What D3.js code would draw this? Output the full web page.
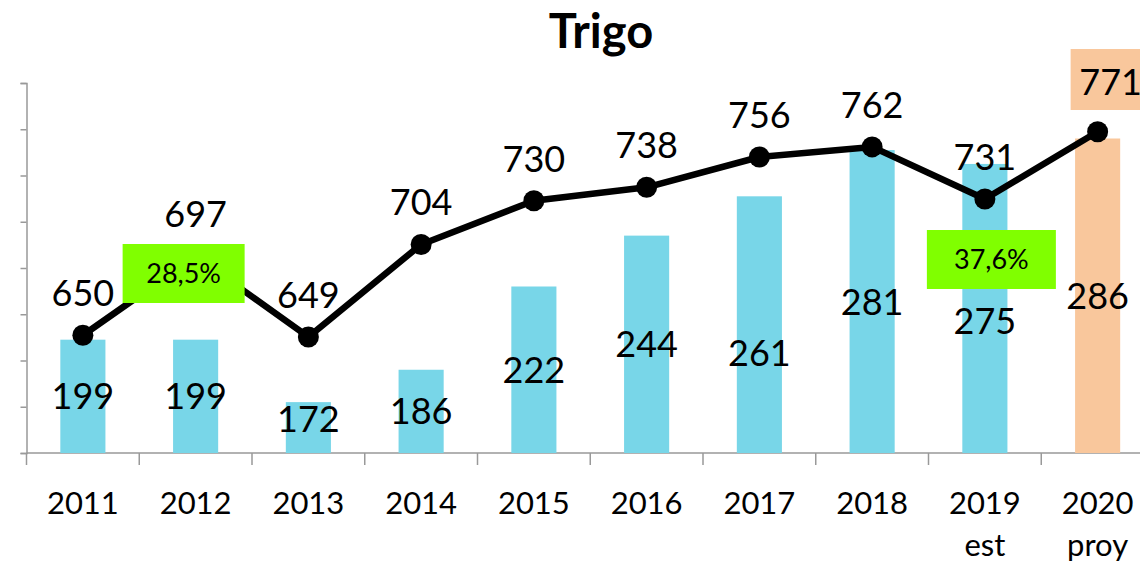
<!DOCTYPE html>
<html>
<head>
<meta charset="utf-8">
<script src="https://cdn.jsdelivr.net/npm/d3@7"></script>
<style>
  body { margin: 0; background: #fff; }
  text { font-family: Lato, "Open Sans", sans-serif; fill: #000; }
</style>
</head>
<body>
<div id="wrapper"></div>
<script>
const width = 1140,
    height = 565;

// data
const years = ["2011", "2012", "2013", "2014", "2015", "2016", "2017", "2018", "2019", "2020"];
const subLabels = ["", "", "", "", "", "", "", "", "est", "proy"];
const barValues = [199, 199, 172, 186, 222, 244, 261, 281, 275, 286];
const lineValues = [650, 697, 649, 704, 730, 738, 756, 762, 731, 771];
const badges = [{year: "2012", text: "28,5%"}, {year: "2019", text: "37,6%"}];

// small manual label nudges (layout only)
const barLabelNudge = {"2013": -9, "2017": 28, "2019": 13};
const lineLabelNudge = {"2020": {dx: 13, dy: -8}};
const badgeBox = {"2012": {dx: -73, y: 244, w: 122}, "2019": {dx: -58, y: 230, w: 129}};

const margin = {top: 83, right: -14, bottom: 112, left: 26.5};

const svg = d3.select("#wrapper")
    .append("svg")
    .attr("width", width)
    .attr("height", height);

const x = d3.scaleBand()
    .domain(years)
    .range([margin.left, width - margin.right])
    .paddingInner(0.6)
    .paddingOuter(0.3);

// band edges for category ticks
const step = x.step();
const x0 = margin.left;

const yBar = d3.scaleLinear()
    .domain([150, 310])
    .range([height - margin.bottom, margin.top]);

const yLine = d3.scaleLinear()
    .domain([580, 800])
    .range([height - margin.bottom, margin.top]);

const barColor = (d, i) => i === years.length - 1 ? "#f9c79c" : "#78d6e8";

// title
svg.append("text")
    .attr("x", 601)
    .attr("y", 48)
    .attr("text-anchor", "middle")
    .style("font-size", "47px")
    .style("font-weight", "bold")
    .text("Trigo");

// left axis (no labels)
const yAxis = svg.append("g")
    .attr("transform", "translate(" + margin.left + ",0)")
    .call(d3.axisLeft(yBar).tickValues(d3.range(150, 311, 20)).tickSize(6).tickFormat(""));
yAxis.selectAll("line, path").attr("stroke", "#999").attr("stroke-width", 1.5);

// bottom axis line and category ticks
const baseY = height - margin.bottom;
svg.append("line")
    .attr("x1", margin.left).attr("x2", width)
    .attr("y1", baseY).attr("y2", baseY)
    .attr("stroke", "#999").attr("stroke-width", 1.5);

svg.append("g")
    .selectAll("line")
    .data(d3.range(years.length + 1))
    .enter().append("line")
    .attr("x1", i => x0 + i * step)
    .attr("x2", i => x0 + i * step)
    .attr("y1", baseY)
    .attr("y2", baseY + 12)
    .attr("stroke", "#999").attr("stroke-width", 1.5);

// bars
svg.append("g")
    .selectAll("rect")
    .data(barValues)
    .enter().append("rect")
    .attr("x", (d, i) => x(years[i]))
    .attr("width", x.bandwidth())
    .attr("y", d => yBar(d))
    .attr("height", d => baseY - yBar(d))
    .attr("fill", barColor);

// bar labels
svg.append("g")
    .selectAll("text")
    .data(barValues)
    .enter().append("text")
    .attr("x", (d, i) => x(years[i]) + x.bandwidth() / 2)
    .attr("y", (d, i) => (yBar(d) + baseY) / 2 + 13 + (barLabelNudge[years[i]] || 0))
    .attr("text-anchor", "middle")
    .style("font-size", "36px")
    .text(d => d);

// line
const cx = (d, i) => x(years[i]) + x.bandwidth() / 2;
const line = d3.line()
    .x(cx)
    .y(d => yLine(d));

svg.append("path")
    .datum(lineValues)
    .attr("d", line)
    .attr("fill", "none")
    .attr("stroke", "#000")
    .attr("stroke-width", 6.5)
    .attr("stroke-linejoin", "round");

svg.append("g")
    .selectAll("circle")
    .data(lineValues)
    .enter().append("circle")
    .attr("cx", cx)
    .attr("cy", d => yLine(d))
    .attr("r", 10.5)
    .attr("fill", "#000");

// background for the projected line label
const last = lineValues.length - 1;
svg.append("rect")
    .attr("x", cx(lineValues[last], last) - 27)
    .attr("y", 49)
    .attr("width", 80)
    .attr("height", 61)
    .attr("fill", "#f9c79c");

// line labels
const nudge = (i, k) => (lineLabelNudge[years[i]] || {})[k] || 0;
svg.append("g")
    .selectAll("text")
    .data(lineValues)
    .enter().append("text")
    .attr("x", (d, i) => cx(d, i) + nudge(i, "dx"))
    .attr("y", (d, i) => yLine(d) - 29 + nudge(i, "dy"))
    .attr("text-anchor", "middle")
    .style("font-size", "36px")
    .text(d => d);

// green badges
const badge = svg.append("g")
    .selectAll("g")
    .data(badges)
    .enter().append("g");

badge.append("rect")
    .attr("x", d => x(d.year) + x.bandwidth() / 2 + badgeBox[d.year].dx)
    .attr("y", d => badgeBox[d.year].y)
    .attr("width", d => badgeBox[d.year].w)
    .attr("height", 59)
    .attr("fill", "#80ff00");

badge.append("text")
    .attr("x", d => x(d.year) + x.bandwidth() / 2 + badgeBox[d.year].dx + badgeBox[d.year].w / 2)
    .attr("y", d => badgeBox[d.year].y + 39)
    .attr("text-anchor", "middle")
    .style("font-size", "27px")
    .text(d => d.text);

// category labels
svg.append("g")
    .selectAll("text")
    .data(years)
    .enter().append("text")
    .attr("x", d => x(d) + x.bandwidth() / 2)
    .attr("y", 514)
    .attr("text-anchor", "middle")
    .style("font-size", "31px")
    .text(d => d);

svg.append("g")
    .selectAll("text")
    .data(subLabels)
    .enter().append("text")
    .attr("x", (d, i) => x(years[i]) + x.bandwidth() / 2)
    .attr("y", 556)
    .attr("text-anchor", "middle")
    .style("font-size", "31px")
    .text(d => d);
</script>
</body>
</html>
